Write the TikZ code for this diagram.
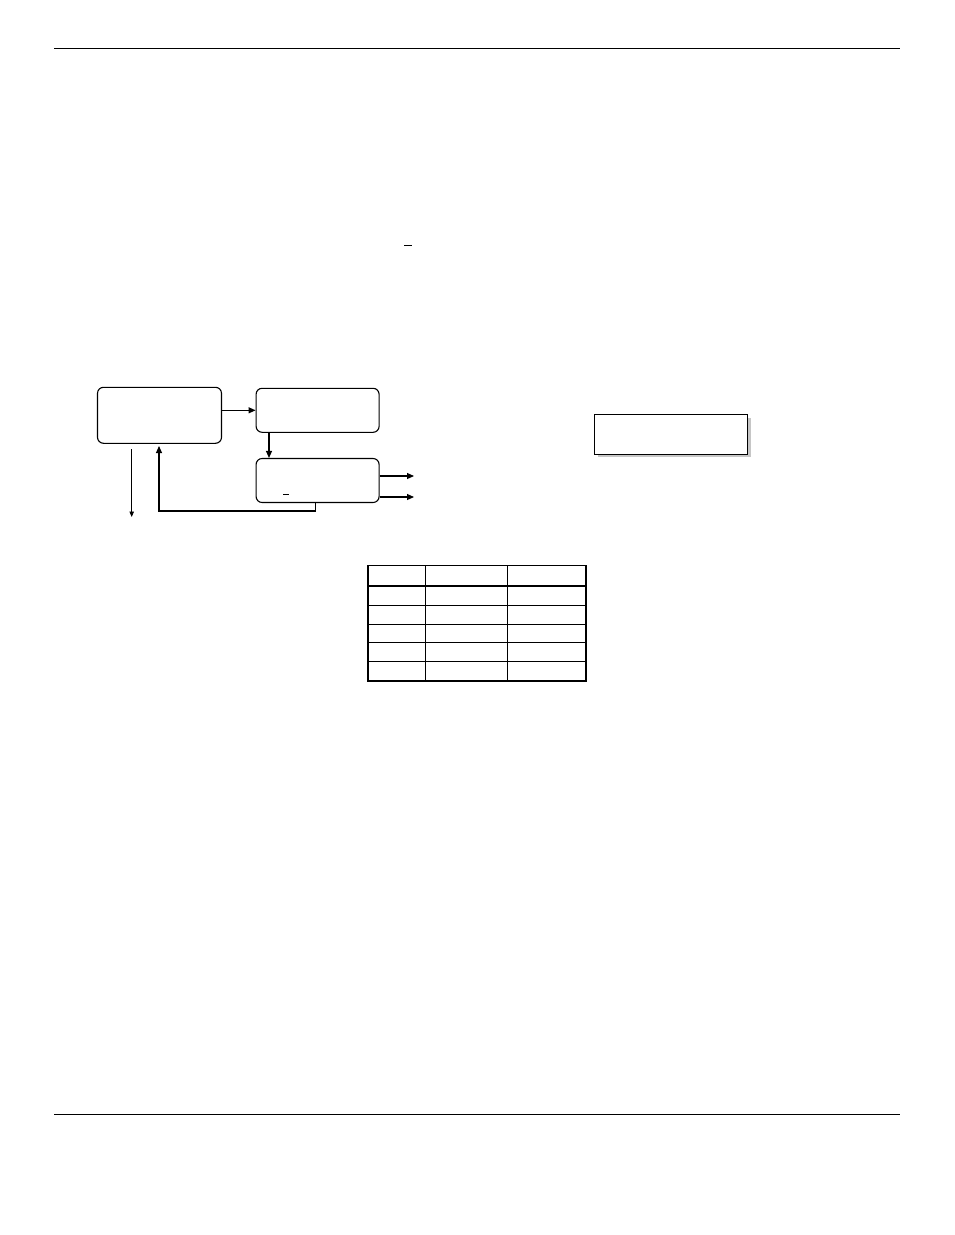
\documentclass[tikz,border=0pt]{standalone}
\usetikzlibrary{arrows.meta}
\begin{document}
\begin{tikzpicture}[x=1pt,y=-1pt,
  procbox/.style={draw, line width=1.1pt, rounded corners=6pt, inner sep=0pt},
  plainbox/.style={draw, line width=1.1pt, fill=white, inner sep=0pt},
  arr/.style={line width=1.1pt, -{Triangle[length=7pt,width=6pt]}},
  thinarr/.style={line width=0.8pt, -{Triangle[length=5.5pt,width=4.5pt]}},
  rule/.style={line width=0.8pt},
  tbl/.style={line width=1pt},
  tblthick/.style={line width=2pt}]
\useasboundingbox (0,0) rectangle (954,1235);
% page rules
\draw[rule] (54,48) -- (900,48);
\draw[line width=1.6pt] (54,1114.5) -- (900,1114.5);
% small dash in text area
\draw[line width=1pt] (404,245) -- (412,245);
% process boxes
\node[procbox, minimum width=124pt, minimum height=56pt] (A) at (159.5,415.3) {};
\node[procbox, minimum width=123pt, minimum height=44pt] (B) at (317.6,410.3) {};
\node[procbox, minimum width=123pt, minimum height=44pt] (C) at (317.6,480.5) {};
\draw[line width=1pt] (283.3,494) -- (289.3,494);
% connectors
\draw[arr] (A.east |- B.west) -- (B.west);
\coordinate (bx) at (269,0);
\draw[arr] (bx |- B.south) -- (bx |- C.north);
\coordinate (o1) at (414,476);
\coordinate (o2) at (414,497);
\draw[arr] (o1 -| C.east) -- (o1);
\draw[arr] (o2 -| C.east) -- (o2);
\coordinate (d1) at (131.7,449);
\coordinate (d2) at (131.7,517);
\draw[thinarr] (d1) -- (d2);
\coordinate (fb) at (315.7,0);
\coordinate (fbend) at (159,511);
\coordinate (fbtip) at (159,446);
\draw[arr] (fb |- C.south) |- (fbend) -- (fbtip);
% shadow box
\fill[gray!45] (597.5,417.5) rectangle (750.5,457.3);
\node[plainbox, minimum width=153.4pt, minimum height=39.7pt] (D) at (671,434.2) {};
% table
\draw[tbl] (368.3,565) -- (585.7,565);
\draw[tblthick] (368.3,565) -- (368.3,681) -- (585.7,681) -- (585.7,565);
\draw[tblthick] (368.3,586) -- (585.7,586);
\foreach \yy in {605.3,624,642.7,661.7} \draw[tbl] (368.3,\yy) -- (585.7,\yy);
\foreach \xx in {425.3,507.3} \draw[tbl] (\xx,565) -- (\xx,681);
\end{tikzpicture}
\end{document}
